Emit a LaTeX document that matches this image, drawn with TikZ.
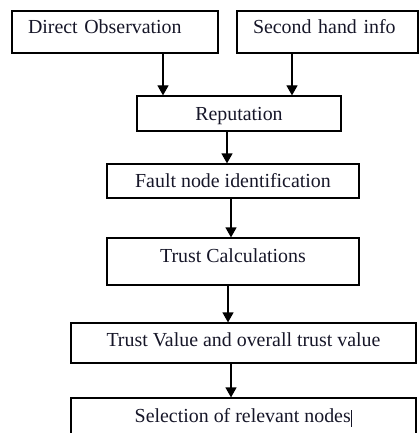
\documentclass[tikz,border=0pt]{standalone}
\usepackage{fontspec}
\setmainfont{Liberation Serif}
\usetikzlibrary{arrows.meta}
\definecolor{ink}{RGB}{22,22,40}
\begin{document}
\begin{tikzpicture}[x=1pt,y=-1pt,
  box/.style={draw=black, line width=1.2pt, rectangle, inner xsep=0pt, inner ysep=0pt,
    font=\fontsize{19.9}{24}\selectfont, text=ink},
  leftbox/.style={box, align=left, inner xsep=16pt},
  arr/.style={draw=black, line width=1.2pt, -{Triangle[length=10pt,width=11pt]}}]
\clip (0,0) rectangle (419,433);
\useasboundingbox (0,0) rectangle (419,433);

\node[leftbox, minimum width=206pt, minimum height=42pt, text width=174pt,
  text height=13.3pt, text depth=9.3pt] (do) at (115,32) {Direct Observation};
\node[leftbox, minimum width=181pt, minimum height=42pt, text width=149pt,
  text height=13.3pt, text depth=9.3pt] (sh) at (327.5,32) {Second hand info};
\node[box, minimum width=204pt, minimum height=35pt,
  text height=16pt, text depth=1.6pt] (rep) at (239,113.5) {Reputation};
\node[box, minimum width=252pt, minimum height=34pt,
  text height=16pt, text depth=3.4pt] (fault) at (233,181) {Fault node identification};
\node[box, minimum width=252pt, minimum height=47pt,
  text height=13.3pt, text depth=11.7pt] (tc) at (233,261.5) {Trust Calculations};
\node[box, minimum width=345pt, minimum height=40pt,
  text height=13.3pt, text depth=7.3pt] (tv) at (243.5,343) {Trust Value and overall trust value};
\node[box, minimum width=345pt, minimum height=42pt,
  text height=13.3pt, text depth=5.9pt] (sel) at (243.5,419)
  {Selection of relevant nodes\hspace{0.6pt}\rule[-4pt]{0.9pt}{16.5pt}};

\coordinate (x1) at (163,0);
\coordinate (x2) at (292,0);
\coordinate (x3) at (227,0);
\coordinate (x4) at (231,0);
\coordinate (x5) at (228,0);
\coordinate (x6) at (231,0);

\draw[arr] (do.south -| x1) -- (rep.north -| x1);
\draw[arr] (sh.south -| x2) -- (rep.north -| x2);
\draw[arr] (rep.south -| x3) -- (fault.north -| x3);
\draw[arr] (fault.south -| x4) -- (tc.north -| x4);
\draw[arr] (tc.south -| x5) -- (tv.north -| x5);
\draw[arr] (tv.south -| x6) -- (sel.north -| x6);
\end{tikzpicture}
\end{document}
